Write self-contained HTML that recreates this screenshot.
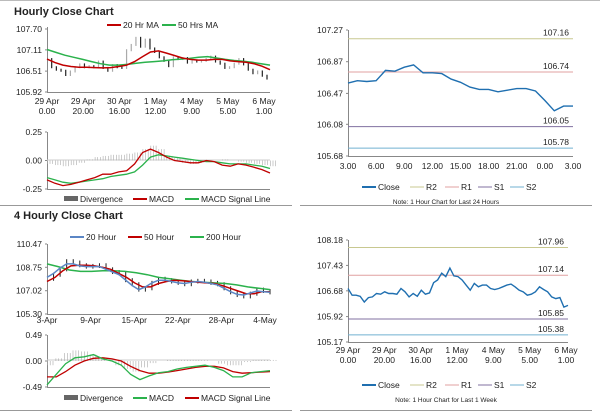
<!DOCTYPE html>
<html><head><meta charset="utf-8"><style>
body{margin:0;background:#fff;width:600px;height:413px;overflow:hidden}
svg{font-family:"Liberation Sans",sans-serif;font-size:8.5px;fill:#222}
</style></head><body>
<svg id="s" width="600" height="413">
<text x="14" y="15" font-size="11" font-weight="bold">Hourly Close Chart</text>
<text x="14" y="219" font-size="11" font-weight="bold">4 Hourly Close Chart</text>
<line x1="0" y1="205.5" x2="292" y2="205.5" stroke="#999"/>
<line x1="0" y1="410.5" x2="292" y2="410.5" stroke="#999"/>
<line x1="300" y1="205.5" x2="592" y2="205.5" stroke="#999"/>
<line x1="300" y1="410.5" x2="592" y2="410.5" stroke="#999"/>
<line x1="0" y1="0.5" x2="600" y2="0.5" stroke="#bbb"/>
</svg>
<script>
// ---- Data ----
const hPrice=[106.85,106.62,106.55,106.52,106.40,106.50,106.62,106.70,106.62,106.65,106.62,106.78,106.60,106.52,106.68,106.62,106.60,107.10,107.25,107.45,107.20,107.40,107.15,107.05,106.90,106.80,106.65,106.90,106.85,106.88,106.75,106.80,106.78,106.80,106.85,106.92,106.78,106.72,106.60,106.62,106.72,106.85,106.70,106.55,106.45,106.50,106.38,106.30];
const hMA20=[106.85,106.75,106.68,106.64,106.62,106.62,106.61,106.60,106.61,106.64,106.68,106.78,106.92,107.05,107.08,107.02,106.95,106.88,106.84,106.82,106.82,106.84,106.84,106.80,106.78,106.76,106.72,106.65,106.55];
const hMA50=[107.12,107.04,106.96,106.90,106.84,106.78,106.72,106.68,106.68,106.70,106.73,106.76,106.78,106.80,106.83,106.85,106.87,106.90,106.92,106.88,106.84,106.81,106.79,106.76,106.72,106.68];
const hDiv=[-0.03,-0.04,-0.05,-0.04,-0.02,0.01,0.03,0.04,0.05,0.05,0.06,0.07,0.1,0.13,0.1,0.04,0.02,-0.02,-0.03,-0.02,-0.01,0.0,0.01,0.0,-0.01,-0.02,-0.03,-0.04,-0.05];
const hMACD=[-0.17,-0.2,-0.22,-0.21,-0.19,-0.17,-0.15,-0.12,-0.12,-0.1,-0.09,-0.03,0.07,0.1,0.07,0.03,0.0,-0.01,-0.02,-0.02,0.0,-0.01,-0.04,-0.05,-0.03,-0.04,-0.06,-0.08,-0.11];
const hSig=[-0.15,-0.17,-0.19,-0.2,-0.19,-0.18,-0.17,-0.16,-0.14,-0.13,-0.12,-0.1,-0.04,0.03,0.05,0.04,0.03,0.02,0.01,0.0,-0.01,-0.01,-0.02,-0.03,-0.03,-0.03,-0.04,-0.05,-0.07];
const hXLab=[["29 Apr","0.00"],["29 Apr","20.00"],["30 Apr","16.00"],["1 May","12.00"],["4 May","9.00"],["5 May","5.00"],["6 May","1.00"]];
const dClose=[106.60,106.63,106.62,106.63,106.76,106.75,106.80,106.83,106.73,106.73,106.72,106.65,106.61,106.55,106.52,106.52,106.49,106.51,106.53,106.53,106.50,106.38,106.25,106.31,106.31];
const dXLab=["3.00","6.00","9.00","12.00","15.00","18.00","21.00","0.00","3.00"];
const dLevels=[107.16,106.74,106.05,105.78];
const wClose=[106.75,106.55,106.55,106.52,106.35,106.48,106.50,106.60,106.58,106.65,106.60,106.60,106.58,106.75,106.65,106.50,106.60,106.52,106.70,106.58,106.62,106.92,107.00,107.20,107.10,107.35,107.12,107.10,107.00,106.85,106.70,106.90,106.80,106.85,106.85,106.75,106.72,106.75,106.80,106.85,106.88,106.80,106.70,106.65,106.55,106.58,106.65,106.80,106.72,106.65,106.50,106.45,106.48,106.20,106.25];
const wLevels=[107.96,107.14,105.85,105.38];
const fPrice=[107.9,108.2,108.6,109.2,109.1,108.9,108.8,108.85,108.9,108.6,108.4,108.3,107.8,107.5,107.1,107.2,107.6,107.9,107.8,107.7,107.6,107.5,107.7,107.75,107.7,107.6,107.5,107.2,106.9,106.7,106.6,106.8,107.1,107.0,106.9];
const f20=[108.0,108.3,108.7,109.0,109.0,108.85,108.8,108.8,108.8,108.6,108.4,108.2,107.8,107.4,107.1,107.3,107.6,107.8,107.8,107.7,107.6,107.55,107.65,107.7,107.65,107.55,107.45,107.2,106.95,106.75,106.7,106.85,107.0,106.95,106.9];
const f50=[107.7,108.0,108.5,108.85,108.9,108.9,108.85,108.75,108.6,108.3,108.0,107.6,107.3,107.3,107.55,107.7,107.8,107.75,107.7,107.65,107.6,107.55,107.4,107.2,107.0,106.8,106.8,106.95,106.95];
const f200=[109.0,108.8,108.55,108.45,108.45,108.5,108.5,108.45,108.35,108.2,108.0,107.9,107.8,107.7,107.65,107.6,107.55,107.45,107.3,107.2,107.1];
const fDiv=[-0.08,0.05,0.15,0.2,0.18,0.12,0.06,0.0,-0.08,-0.15,-0.2,-0.12,-0.04,0.0,0.02,0.02,0.02,0.02,0.01,0.0,-0.05,-0.08,-0.08,-0.02,0.02,0.02,0.02];
const fMACD=[-0.45,-0.25,-0.05,0.06,0.08,0.12,0.04,0.0,-0.08,-0.25,-0.35,-0.28,-0.22,-0.2,-0.15,-0.12,-0.1,-0.08,-0.12,-0.18,-0.3,-0.3,-0.22,-0.2,-0.18];
const fSig=[-0.3,-0.3,-0.2,-0.08,0.0,0.05,0.06,0.04,0.0,-0.1,-0.18,-0.23,-0.23,-0.21,-0.18,-0.15,-0.12,-0.1,-0.1,-0.13,-0.2,-0.23,-0.22,-0.21,-0.2];
const fXLab=["3-Apr","9-Apr","15-Apr","22-Apr","28-Apr","4-May"];

// ---- Helpers ----
const svg=document.getElementById('s'),NS='http://www.w3.org/2000/svg';
function mk(t,a,txt){const e=document.createElementNS(NS,t);for(const k in a)e.setAttribute(k,a[k]);if(txt!==undefined)e.textContent=txt;svg.appendChild(e);return e;}
function lin(d0,d1,r0,r1){return v=>r0+(v-d0)/(d1-d0)*(r1-r0);}
function axes(x0,x1,yT,yB,name){
  let e=mk('line',{x1:x0+.5,y1:yT,x2:x0+.5,y2:yB,stroke:'#888'});
  
  
  e=mk('line',{x1:x0,y1:yB+.5,x2:x1,y2:yB+.5,stroke:'#888'});
  
  
}
function yticks(vals,ys,x0,name){vals.forEach(v=>{const y=ys(v);
  let t=mk('text',{x:x0-5,y:y+3,'text-anchor':'end'},v.toFixed(2));
  
  
  mk('line',{x1:x0-2,y1:y,x2:x0,y2:y,stroke:'#888'});});}
function path(arr,xs,ys,col,w,name){let d=arr.map((v,i)=>(i?'L':'M')+xs(i).toFixed(1)+','+ys(v).toFixed(1)).join('');
  const p=mk('path',{d:d,fill:'none',stroke:col,'stroke-width':w});
  
  return p;}
function legLine(x,y,col,label,w,name){mk('line',{x1:x,y1:y-3,x2:x+14,y2:y-3,stroke:col,'stroke-width':w});
  const t=mk('text',{x:x+16,y:y},label);
  
  }
function legBox(x,y,label,name){mk('rect',{x:x,y:y-6,width:14,height:5,fill:'#666'});
  const t=mk('text',{x:x+16,y:y},label);
  
  }
function bars(arr,xs,ys,name){const z=ys(0);arr.forEach((v,i)=>{const n=3;for(let k=0;k<n;k++){const x=xs(i)+k*(xs(1)-xs(0))/n;
  const r=mk('rect',{x:x.toFixed(1),y:Math.min(z,ys(v)),width:0.6,height:Math.abs(ys(v)-z),fill:'#aaa'});
  
  }});}

// ---- Hourly price (top-left) ----
(function(){const X0=47,X1=270,ys=lin(105.92,107.70,92,29);
 axes(X0,X1,27,92,'hourly');yticks([107.70,107.11,106.51,105.92],ys,X0,'hourly');
 const xs=i=>X0+i*(X1-X0-3)/(hPrice.length-1);
 hPrice.forEach((v,i)=>{if(!i)return;const a=hPrice[i-1];
  const r=mk('line',{x1:xs(i),y1:ys(Math.max(a,v))-1,x2:xs(i),y2:ys(Math.min(a,v))+1,stroke:v>=a?'#aaa':'#222','stroke-width':1.2});
  
  });
 path(hMA50,i=>X0+i*(X1-X0)/(hMA50.length-1),ys,'#2bb24c',1.5,'hourly-50ma-line');
 path(hMA20,i=>X0+i*(X1-X0)/(hMA20.length-1),ys,'#c00000',1.5,'hourly-20ma-line');
 hXLab.forEach((l,i)=>{const x=X0+i*(X1-X0-6)/6;
  mk('text',{x:x,y:104,'text-anchor':'middle'},l[0]);
  const t=mk('text',{x:x,y:114,'text-anchor':'middle'},l[1]);
  
  });
 legLine(107,28,'#c00000','20 Hr MA',2,'legend-20hr-ma');legLine(162,28,'#2bb24c','50 Hrs MA',2,'legend-50hrs-ma');
 const ym=lin(-0.25,0.25,189,132);axes(X0,X1,132,189,'hourly-macd');
 mk('line',{x1:X0,y1:160,x2:X1,y2:160,stroke:'#ccc'});
 yticks([0.25,0,-0.25],ym,X0,'hourly-macd');
 const xm=i=>X0+i*(X1-X0)/(hDiv.length-1);
 bars(hDiv,xm,ym,'hourly-divergence-bar');
 path(hSig,xm,ym,'#2bb24c',1.3,'hourly-signal-line');path(hMACD,xm,ym,'#c00000',1.3,'hourly-macd-line');
 legBox(64,202,'Divergence','legend-divergence');legLine(133,202,'#c00000','MACD',2,'legend-macd');legLine(185,202,'#2bb24c','MACD Signal Line',2,'legend-signal');
})();

// ---- Level chart helper ----
function levelChart(data,levels,lo,hi,ticks,X0,X1,yT,yB,name,legY,note){
 const ys=lin(lo,hi,yB,yT);axes(X0,X1,yT,yB,name);yticks(ticks,ys,X0,name);
 const cols=['#c8c890','#e0a0a0','#8070a0','#70b0d0'];
 levels.forEach((v,i)=>{const l=mk('line',{x1:X0,y1:ys(v),x2:X1,y2:ys(v),stroke:cols[i],'stroke-width':1});
  
  
  const t=mk('text',{x:X1-4,y:ys(v)-3,'text-anchor':'end'},v.toFixed(2));
  
  });
 path(data,i=>X0+i*(X1-X0)/(data.length-1),ys,'#1f6fb0',1.4,name+'-close-line');
 legLine(362,legY,'#1f6fb0','Close',2,name+'-legend-close');legLine(410,legY,cols[0],'R2',1,name+'-legend-r2');
 legLine(445,legY,cols[1],'R1',1,name+'-legend-r1');legLine(478,legY,cols[2],'S1',1,name+'-legend-s1');legLine(510,legY,cols[3],'S2',1,name+'-legend-s2');
 const n=mk('text',{x:446,y:legY+14,'text-anchor':'middle','font-size':'6.5'},note);
 
 
}
levelChart(dClose,dLevels,105.68,107.27,[107.27,106.87,106.47,106.08,105.68],348,573,30,156,'daily',190,'Note: 1 Hour Chart for Last 24 Hours');
dXLab.forEach((l,i)=>{const t=mk('text',{x:348+i*225/8,y:169,'text-anchor':'middle'},l);
 
 });
levelChart(wClose,wLevels,105.17,108.18,[108.18,107.43,106.68,105.92,105.17],348,568,240,342,'weekly',388,'Note: 1 Hour Chart for Last 1 Week');
hXLab.forEach((l,i)=>{const x=348+i*(566-348-0)/6;
 mk('text',{x:x,y:353,'text-anchor':'middle'},l[0]);
 const t=mk('text',{x:x,y:363,'text-anchor':'middle'},l[1]);
 
 });

// ---- 4 hourly ----
(function(){const X0=47,X1=270,ys=lin(105.30,110.47,314,244);
 axes(X0,X1,244,314,'4h');yticks([110.47,108.75,107.02,105.30],ys,X0,'4h');
 const xs=i=>X0+i*(X1-X0)/(fPrice.length-1);
 fPrice.forEach((v,i)=>{if(!i)return;const a=fPrice[i-1];
  const r=mk('line',{x1:xs(i),y1:ys(Math.max(a,v))-2,x2:xs(i),y2:ys(Math.min(a,v))+2,stroke:'#222','stroke-width':1});
  
  });
 path(f200,i=>X0+i*(X1-X0)/(f200.length-1),ys,'#2bb24c',1.5,'4h-200-line');
 path(f50,i=>X0+i*(X1-X0)/(f50.length-1),ys,'#c00000',1.5,'4h-50-line');
 path(f20,xs,ys,'#5b86c5',1.5,'4h-20-line');
 fXLab.forEach((l,i)=>{const t=mk('text',{x:X0+i*(X1-X0-5)/5,y:323,'text-anchor':'middle'},l);
  
  });
 legLine(70,240,'#5b86c5','20 Hour',2,'legend-20-hour');legLine(128,240,'#c00000','50 Hour',2,'legend-50-hour');legLine(190,240,'#2bb24c','200 Hour',2,'legend-200-hour');
 const ym=lin(-0.49,0.49,387,335);axes(X0,X1,335,387,'4h-macd');
 mk('line',{x1:X0,y1:360,x2:X1,y2:360,stroke:'#ccc'});
 yticks([0.49,0,-0.49],ym,X0,'4h-macd');
 const xm=i=>X0+i*(X1-X0)/(fDiv.length-1);
 bars(fDiv,xm,ym,'4h-divergence-bar');
 const xm2=i=>X0+i*(X1-X0)/(fMACD.length-1);
 path(fSig,xm2,ym,'#c00000',1.3,'4h-signal-line');path(fMACD,xm2,ym,'#2bb24c',1.3,'4h-macd-line');
 legBox(64,401,'Divergence','legend-4h-divergence');legLine(133,401,'#2bb24c','MACD',2,'legend-4h-macd');legLine(185,401,'#c00000','MACD Signal Line',2,'legend-4h-signal');
})();
</script>
</body></html>
